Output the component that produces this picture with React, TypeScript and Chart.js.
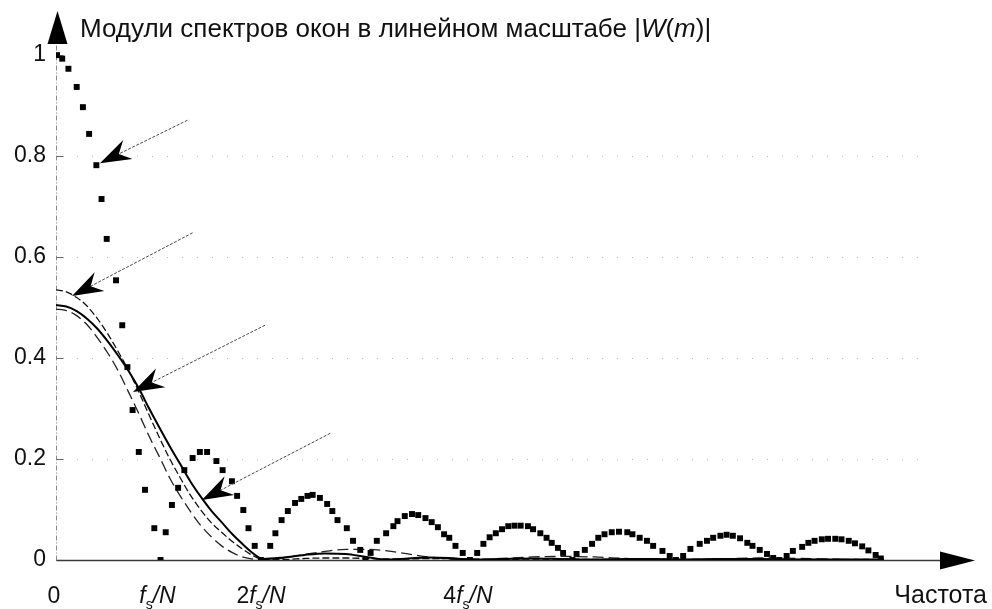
import React, { useEffect, useRef } from "react";
import { Chart, registerables } from "chart.js";

Chart.register(...registerables);

const FONT = '"Liberation Sans", Arial, Helvetica, sans-serif';

// Rectangular window |W(m)| (dotted series), frequency in units of fs/N
const rectFreq = [
  0.01, 0.06, 0.12, 0.2, 0.26, 0.32, 0.39, 0.44, 0.49, 0.58,
  0.64, 0.69, 0.74, 0.8, 0.86, 0.95, 1.01, 1.06, 1.12, 1.18,
  1.24, 1.32, 1.39, 1.46, 1.55, 1.61, 1.7, 1.75, 1.81, 1.86,
  1.92, 1.98, 2.07, 2.12, 2.18, 2.24, 2.31, 2.37, 2.43, 2.48,
  2.55, 2.62, 2.67, 2.72, 2.81, 2.87, 2.94, 2.99, 3.04, 3.1,
  3.19, 3.26, 3.3, 3.37, 3.44, 3.5, 3.57, 3.63, 3.69, 3.75,
  3.8, 3.86, 3.93, 4.0, 4.07, 4.13, 4.19, 4.25, 4.31, 4.37,
  4.43, 4.49, 4.56, 4.61, 4.68, 4.74, 4.79, 4.85, 4.9, 4.99,
  5.03, 5.11, 5.18, 5.24, 5.3, 5.37, 5.44, 5.52, 5.57, 5.64,
  5.71, 5.77, 5.86, 5.93, 5.99, 6.06, 6.13, 6.22, 6.29, 6.35,
  6.42, 6.48, 6.54, 6.61, 6.68, 6.73, 6.8, 6.87, 6.93, 6.99,
  7.06, 7.12, 7.21, 7.27, 7.33, 7.4, 7.46, 7.53, 7.59, 7.66,
  7.72, 7.79, 7.85, 7.92, 7.97,
];
const rectMag = [
  1.0, 0.993, 0.973, 0.937, 0.897, 0.844, 0.782, 0.715, 0.636, 0.554,
  0.465, 0.382, 0.297, 0.214, 0.139, 0.063, 0, 0.055, 0.109, 0.143,
  0.178, 0.202, 0.214, 0.214, 0.196, 0.178, 0.156, 0.127, 0.099, 0.063,
  0.028, 0, 0.028, 0.053, 0.079, 0.097, 0.113, 0.121, 0.127, 0.129,
  0.123, 0.111, 0.097, 0.079, 0.063, 0.038, 0.02, 0, 0.014, 0.038,
  0.053, 0.067, 0.077, 0.087, 0.091, 0.089, 0.083, 0.075, 0.065, 0.051,
  0.044, 0.028, 0.014, 0, 0.014, 0.032, 0.045, 0.053, 0.061, 0.067,
  0.068, 0.068, 0.067, 0.061, 0.053, 0.044, 0.034, 0.024, 0.014, 0,
  0.012, 0.02, 0.032, 0.044, 0.051, 0.055, 0.056, 0.055, 0.051, 0.044,
  0.038, 0.028, 0.018, 0.008, 0, 0.008, 0.022, 0.032, 0.038, 0.044,
  0.048, 0.05, 0.048, 0.043, 0.034, 0.028, 0.02, 0.012, 0.004, 0,
  0.008, 0.018, 0.026, 0.034, 0.038, 0.041, 0.042, 0.042, 0.041, 0.038,
  0.033, 0.027, 0.019, 0.01, 0.003,
];

// Shared frequency grid for the continuous curves
const lineFreq = [
  0, 0.1, 0.2, 0.3, 0.4, 0.5, 0.6, 0.7, 0.8, 0.9, 1.0,
  1.1, 1.2, 1.3, 1.4, 1.5, 1.6, 1.7, 1.8, 1.9, 2.0,
  2.2, 2.4, 2.6, 2.8, 3.0, 3.2, 3.4, 3.6, 3.8, 4.0,
  4.3, 4.6, 4.9, 5.2, 5.5, 5.8, 6.0, 6.4, 6.8, 7.2, 7.6, 8.0,
];
const hammingMag = [
  0.535, 0.531, 0.52, 0.503, 0.478, 0.448, 0.413, 0.376, 0.333, 0.287, 0.242,
  0.2, 0.163, 0.128, 0.099, 0.074, 0.055, 0.037, 0.022, 0.009, 0.001,
  0.001, 0.003, 0.004, 0.004, 0.003, 0.002, 0.002, 0.003, 0.003, 0.002,
  0.001, 0.002, 0.002, 0.001, 0.001, 0.002, 0.001, 0.001, 0.002, 0.001, 0.001, 0.001,
];
const hanningMag = [
  0.505, 0.502, 0.493, 0.478, 0.458, 0.433, 0.405, 0.375, 0.34, 0.3, 0.262,
  0.225, 0.19, 0.155, 0.125, 0.098, 0.075, 0.052, 0.032, 0.014, 0.002,
  0.005, 0.01, 0.013, 0.012, 0.006, 0.001, 0.003, 0.005, 0.004, 0.001,
  0.002, 0.003, 0.002, 0.001, 0.002, 0.002, 0.001, 0.002, 0.002, 0.001, 0.001, 0.001,
];
const triangMag = [
  0.497, 0.494, 0.484, 0.466, 0.44, 0.41, 0.375, 0.333, 0.29, 0.245, 0.204,
  0.162, 0.127, 0.096, 0.068, 0.046, 0.028, 0.015, 0.006, 0.002, 0,
  0.004, 0.011, 0.017, 0.021, 0.021, 0.018, 0.012, 0.006, 0.002, 0,
  0.003, 0.006, 0.007, 0.006, 0.003, 0.001, 0, 0.002, 0.004, 0.003, 0.001, 0,
];

// Axes
const yTicks = [0, 0.2, 0.4, 0.6, 0.8, 1];
const yTickLabels = ["0", "0.2", "0.4", "0.6", "0.8", "1"];
const gridValues = [0.2, 0.4, 0.6, 0.8];
const xTickValues = [0, 1, 2, 4];
type Seg = { t: string; i?: boolean; sub?: boolean };
const xTickLabels: Seg[][] = [
  [{ t: "0" }],
  [{ t: "f", i: true }, { t: "s", sub: true }, { t: "/N", i: true }],
  [{ t: "2" }, { t: "f", i: true }, { t: "s", sub: true }, { t: "/N", i: true }],
  [{ t: "4" }, { t: "f", i: true }, { t: "s", sub: true }, { t: "/N", i: true }],
];
const xAxisTitle = "Частота";
const titleParts: Seg[] = [
  { t: "Модули спектров окон в линейном масштабе |" },
  { t: "W", i: true },
  { t: "(" },
  { t: "m", i: true },
  { t: ")|" },
];
const X_MAX = 8.88;
const Y_MAX = 1.03;

// Pointer arrows (data units): tail -> tip
const arrowTailX = [1.27, 1.32, 2.02, 2.65];
const arrowTailY = [0.871, 0.648, 0.465, 0.251];
const arrowTipX = [0.425, 0.155, 0.744, 1.41];
const arrowTipY = [0.786, 0.523, 0.333, 0.119];

function drawRich(
  ctx: CanvasRenderingContext2D,
  parts: Seg[],
  x: number,
  y: number,
  size: number,
  align: "left" | "center" | "right"
) {
  const subSize = Math.round(size * 0.62);
  const fontFor = (p: Seg) =>
    `${p.i ? "italic " : ""}${p.sub ? subSize : size}px ${FONT}`;
  let total = 0;
  const widths = parts.map((p) => {
    ctx.font = fontFor(p);
    const w = ctx.measureText(p.t).width;
    total += w;
    return w;
  });
  let cx = align === "left" ? x : align === "center" ? x - total / 2 : x - total;
  ctx.textAlign = "left";
  ctx.textBaseline = "alphabetic";
  parts.forEach((p, k) => {
    ctx.font = fontFor(p);
    ctx.fillText(p.t, cx, p.sub ? y + size * 0.28 : y);
    cx += widths[k];
  });
}

function drawPointer(
  ctx: CanvasRenderingContext2D,
  x0: number,
  y0: number,
  x1: number,
  y1: number
) {
  const dx = x1 - x0;
  const dy = y1 - y0;
  const len = Math.hypot(dx, dy);
  const ux = dx / len;
  const uy = dy / len;
  const nx = -uy;
  const ny = ux;
  const L = 31;
  const W = 10.5;
  const N = 21;
  ctx.save();
  ctx.strokeStyle = "#4a4a4a";
  ctx.lineWidth = 1;
  ctx.setLineDash([3, 1.5]);
  ctx.beginPath();
  ctx.moveTo(x0, y0);
  ctx.lineTo(x1 - ux * N, y1 - uy * N);
  ctx.stroke();
  ctx.setLineDash([]);
  ctx.fillStyle = "#000";
  ctx.beginPath();
  ctx.moveTo(x1, y1);
  ctx.lineTo(x1 - ux * L + nx * W, y1 - uy * L + ny * W);
  ctx.lineTo(x1 - ux * N, y1 - uy * N);
  ctx.lineTo(x1 - ux * L - nx * W, y1 - uy * L - ny * W);
  ctx.closePath();
  ctx.fill();
  ctx.restore();
}

const decorPlugin = {
  id: "decor",
  beforeDatasetsDraw(chart: any) {
    const { ctx, chartArea: a, scales } = chart;
    const x = scales.x;
    const y = scales.y;
    const x0 = Math.round(x.getPixelForValue(0)) + 0.5;
    const y0 = Math.round(y.getPixelForValue(0)) + 0.5;
    ctx.save();
    // faint dotted grid
    ctx.strokeStyle = "rgba(0,0,0,0.28)";
    ctx.lineWidth = 1;
    ctx.setLineDash([1, 14]);
    for (const v of gridValues) {
      const py = Math.round(y.getPixelForValue(v)) + 0.5;
      ctx.beginPath();
      ctx.moveTo(a.left + 6, py);
      ctx.lineTo(a.right - 45, py);
      ctx.stroke();
    }
    // vertical axis (dash-dot, light)
    ctx.strokeStyle = "#8a8a8a";
    ctx.setLineDash([5, 2, 1, 2]);
    ctx.beginPath();
    ctx.moveTo(x0, y0);
    ctx.lineTo(x0, a.top + 4);
    ctx.stroke();
    // tick marks
    ctx.setLineDash([]);
    ctx.strokeStyle = "#666";
    for (const v of yTicks) {
      const py = Math.round(y.getPixelForValue(v)) + 0.5;
      ctx.beginPath();
      ctx.moveTo(x0, py);
      ctx.lineTo(x0 + 7, py);
      ctx.stroke();
    }
    // horizontal axis
    ctx.strokeStyle = "#3a3a3a";
    ctx.lineWidth = 1.4;
    ctx.beginPath();
    ctx.moveTo(x0, y0);
    ctx.lineTo(a.right - 30, y0);
    ctx.stroke();
    // axis arrowheads
    ctx.fillStyle = "#000";
    ctx.beginPath();
    ctx.moveTo(x0 + 1, a.top - 29);
    ctx.lineTo(x0 + 11, a.top + 4);
    ctx.lineTo(x0 - 9, a.top + 4);
    ctx.closePath();
    ctx.fill();
    ctx.beginPath();
    ctx.moveTo(a.right, y0);
    ctx.lineTo(a.right - 35, y0 - 9);
    ctx.lineTo(a.right - 35, y0 + 9);
    ctx.closePath();
    ctx.fill();
    ctx.restore();
  },
  afterDatasetsDraw(chart: any) {
    const { ctx, chartArea: a, scales } = chart;
    const x = scales.x;
    const y = scales.y;
    ctx.save();
    for (let k = 0; k < arrowTailX.length; k++) {
      drawPointer(
        ctx,
        x.getPixelForValue(arrowTailX[k]),
        y.getPixelForValue(arrowTailY[k]),
        x.getPixelForValue(arrowTipX[k]),
        y.getPixelForValue(arrowTipY[k])
      );
    }
    ctx.fillStyle = "#111";
    // x tick labels
    const base = y.getPixelForValue(0) + 43;
    xTickValues.forEach((v, k) => {
      drawRich(ctx, xTickLabels[k], x.getPixelForValue(v) - 2, base, 23, "center");
    });
    // x axis title
    drawRich(ctx, [{ t: xAxisTitle }], a.right + 12, base, 25, "right");
    // y axis title
    drawRich(ctx, titleParts, a.left + 24, a.top - 3, 26, "left");
    ctx.restore();
  },
};

export default function App() {
  const ref = useRef<HTMLCanvasElement | null>(null);
  useEffect(() => {
    if (!ref.current) return;
    const rectData = rectFreq.map((f, i) => ({ x: f, y: rectMag[i] }));
    const line = (mags: number[]) => lineFreq.map((f, i) => ({ x: f, y: mags[i] }));
    const chart = new Chart(ref.current, {
      type: "scatter",
      data: {
        datasets: [
          {
            label: "Прямоугольное",
            data: rectData,
            showLine: false,
            pointStyle: "rect",
            pointRadius: 4.2,
            pointBackgroundColor: "#000",
            pointBorderWidth: 0,
            order: 0,
          },
          {
            label: "Хэмминга",
            data: line(hammingMag),
            showLine: true,
            pointRadius: 0,
            borderColor: "#111",
            borderWidth: 1.3,
            borderDash: [7, 3],
            cubicInterpolationMode: "monotone",
            order: 2,
          },
          {
            label: "Хэннинга",
            data: line(hanningMag),
            showLine: true,
            pointRadius: 0,
            borderColor: "#000",
            borderWidth: 2,
            cubicInterpolationMode: "monotone",
            order: 1,
          },
          {
            label: "Треугольное",
            data: line(triangMag),
            showLine: true,
            pointRadius: 0,
            borderColor: "#222",
            borderWidth: 1.3,
            borderDash: [11, 5],
            cubicInterpolationMode: "monotone",
            order: 3,
          },
        ],
      },
      options: {
        animation: false,
        responsive: false,
        devicePixelRatio: 1,
        layout: { padding: { top: 40, right: 17, bottom: 49, left: 0 } },
        plugins: {
          legend: { display: false },
          tooltip: { enabled: false },
          title: { display: false },
        },
        scales: {
          x: { type: "linear", min: 0, max: X_MAX, display: false },
          y: {
            type: "linear",
            min: 0,
            max: Y_MAX,
            position: "left",
            afterFit: (s: any) => {
              s.width = 56;
            },
            afterBuildTicks: (s: any) => {
              s.ticks = yTicks.map((v) => ({ value: v }));
            },
            ticks: {
              callback: (v: any) => {
                const k = yTicks.indexOf(Number(v));
                return k >= 0 ? yTickLabels[k] : "";
              },
              font: { family: FONT, size: 23 },
              color: "#111",
              padding: 10,
            },
            grid: { display: false, drawTicks: false },
            border: { display: false },
          },
        },
      },
      plugins: [decorPlugin],
    });
    return () => chart.destroy();
  }, []);
  return (
    <div style={{ position: "absolute", left: 0, top: 0, width: 992, height: 609, background: "#fff" }}>
      <canvas ref={ref} width={992} height={609} style={{ display: "block" }} />
    </div>
  );
}
